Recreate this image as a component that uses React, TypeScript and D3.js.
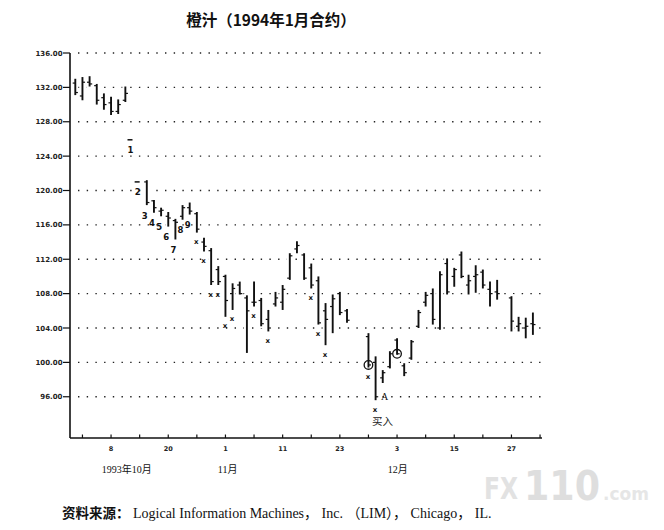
import React from 'react';
import * as d3 from 'd3';

// trading-day index (0 = 1993-10-01), gaps are days without bars
const dayIndex = [0,1,2,3,4,5,6,7,8,9,10,11,12,13,14,15,16,17,18,19,20,21,22,23,24,25,26,27,28,29,30,31,32,33,34,35,36,37,38,41,42,43,44,45,46,47,48,49,50,51,52,53,54,55,56,57,58,59,61,62,63,64];
const opens  = [132.5,131.0,132.6,132.2,130.8,130.2,129.2,130.5,125.9,121.0,121.0,118.8,117.6,117.0,116.5,117.0,118.0,117.3,114.0,113.0,110.8,110.0,108.0,109.0,107.5,107.0,107.2,105.0,106.8,107.0,109.8,113.2,112.5,111.0,109.5,106.0,106.5,108.0,106.0,103.0,100.0,98.2,99.5,102.6,99.6,100.5,104.2,107.0,108.0,104.0,111.5,110.0,112.5,109.0,110.0,110.5,108.5,108.2,107.5,104.2,104.0,104.5];
const highs  = [133.0,133.2,133.3,132.4,131.3,130.9,130.6,132.1,125.9,121.0,121.2,118.9,118.0,117.5,116.7,118.3,118.6,117.5,114.5,113.3,111.2,110.2,109.2,109.4,107.8,109.4,107.5,106.1,108.2,109.0,112.7,114.1,112.7,111.5,110.0,106.9,107.9,108.2,106.2,103.4,100.7,99.1,101.3,102.8,99.9,102.6,106.1,108.2,108.6,110.6,112.1,111.0,112.9,110.2,111.3,110.8,109.4,109.6,107.7,105.3,105.2,105.8];
const lows   = [131.1,130.5,132.1,130.0,129.4,128.8,128.9,130.3,125.9,121.0,118.3,117.4,117.0,115.8,114.3,116.6,117.2,115.1,112.9,109.0,109.0,105.3,106.1,107.9,101.1,106.5,104.2,103.6,106.5,106.1,109.6,112.7,109.6,108.6,104.4,102.0,103.4,105.5,104.6,99.4,95.6,97.6,99.3,100.9,98.4,100.3,104.0,106.5,104.4,103.8,107.9,108.8,109.8,107.9,108.1,108.6,106.5,107.3,103.6,103.6,102.8,103.2];
const closes = [131.4,132.6,132.4,130.5,130.0,129.2,130.0,131.3,125.9,121.0,118.6,118.0,117.7,116.8,116.3,118.0,117.6,115.5,113.5,109.4,109.4,107.2,108.6,108.0,106.0,107.0,104.5,104.0,107.5,108.5,112.4,113.6,109.8,109.0,104.6,105.0,107.4,105.8,104.9,99.7,96.0,98.8,101.0,101.0,98.8,102.4,105.8,107.8,105.0,110.2,108.2,110.8,110.0,109.5,110.2,109.0,108.0,108.0,104.8,104.5,104.2,104.4];

const yTicks = [96, 100, 104, 108, 112, 116, 120, 124, 128, 132, 136];
const xTickIdx = d3.range(1, 66, 4);
const xLabelIdx = [5, 13, 21, 29, 37, 45, 53, 61];
const xLabelText = ['8', '20', '1', '11', '23', '3', '15', '27'];
const monthIdx = [7.2, 21.3, 45.1];
const monthText = ['1993年10月', '11月', '12月'];
const countIdx = [8, 9, 10, 11, 12, 13, 14, 15, 16];
const countText = ['1', '2', '3', '4', '5', '6', '7', '8', '9'];
const crossIdx = [17, 18, 19, 20, 21, 22, 25, 27, 33, 34, 35, 41, 42];
const circleIdx = [41, 45];
const buyIdx = 42;

const x = d3.scaleLinear().domain([0, 64]).range([75.3, 532.9]);
const y = d3.scaleLinear().domain([91.2, 136]).range([438, 53]);

const bars = dayIndex.map((d, k) => ({ d, o: opens[k], h: highs[k], l: lows[k], c: closes[k] }));
const byDay = new Map(bars.map((b) => [b.d, b]));

const sans = "'DejaVu Sans', sans-serif";
const cjk = "'Noto Sans CJK SC', sans-serif";
const serif = "'Liberation Serif', 'Noto Sans CJK SC', serif";

export default function App() {
  const x0 = 70;
  const xEnd = 541;
  const yBottom = 438;
  return (
    <svg width={664} height={530} style={{ position: 'absolute', left: 0, top: 0, background: '#fff' }}>
      <rect width={664} height={530} fill="#fff" />
      {/* title */}
      <text x={271} y={26} textAnchor="middle" fontFamily={cjk} fontWeight={700} fontSize={15.5} fill="#111">
        橙汁（1994年1月合约）
      </text>

      {/* dotted grid */}
      {yTicks.map((t) => (
        <line key={'g' + t} x1={x0 + 8} x2={xEnd} y1={y(t)} y2={y(t)} stroke="#222" strokeWidth={1.4}
          strokeDasharray="1.4 7.3" />
      ))}

      {/* white halos to break grid near bars */}
      {bars.map((b) => (
        <line key={'w' + b.d} x1={x(b.d)} x2={x(b.d)} y1={y(b.h) - 2} y2={y(b.l) + 2} stroke="#fff" strokeWidth={6} />
      ))}

      {/* axes */}
      <line x1={x0} x2={x0} y1={y(136)} y2={yBottom} stroke="#111" strokeWidth={1.6} />
      <line x1={x0} x2={xEnd + 1} y1={yBottom} y2={yBottom} stroke="#111" strokeWidth={1.6} />
      {yTicks.map((t) => (
        <g key={'yt' + t}>
          <line x1={x0 - 7} x2={x0} y1={y(t)} y2={y(t)} stroke="#111" strokeWidth={1.2} />
          <text x={x0 - 7.5} y={y(t) + 2.6} textAnchor="end" fontFamily={sans} fontWeight={700} fontSize={7}
            fill="#222">{t.toFixed(2)}</text>
        </g>
      ))}
      {xTickIdx.map((i) => (
        <line key={'xt' + i} x1={x(i)} x2={x(i)} y1={yBottom - 3.5} y2={yBottom} stroke="#111" strokeWidth={1.2} />
      ))}
      {xLabelIdx.map((i, k) => (
        <text key={'xl' + i} x={x(i)} y={451} textAnchor="middle" fontFamily={sans} fontWeight={700} fontSize={6.5}
          fill="#222">{xLabelText[k]}</text>
      ))}
      {monthIdx.map((i, k) => (
        <text key={'m' + k} x={x(i)} y={473} textAnchor="middle" fontFamily={serif} fontSize={10} fill="#111">
          {monthText[k]}
        </text>
      ))}

      {/* OHLC bars */}
      {bars.map((b) => {
        const cx = x(b.d);
        if (b.h === b.l) {
          return <line key={'b' + b.d} x1={cx - 5} x2={cx} y1={y(b.h)} y2={y(b.h)} stroke="#111" strokeWidth={1.5} />;
        }
        return (
          <g key={'b' + b.d} stroke="#111">
            <line x1={cx} x2={cx} y1={y(b.h)} y2={y(b.l)} strokeWidth={1.9} />
            <line x1={cx - 2.6} x2={cx} y1={y(b.o)} y2={y(b.o)} strokeWidth={1.2} />
            <line x1={cx} x2={cx + 2.6} y1={y(b.c)} y2={y(b.c)} strokeWidth={1.2} />
          </g>
        );
      })}

      {/* count labels */}
      {countIdx.map((i, k) => {
        const b = byDay.get(i)!;
        return (
          <text key={'c' + i} x={x(i) - 2} y={y(b.l) + 13.5} textAnchor="middle" fontFamily={sans} fontWeight={700}
            fontSize={8.5} fill="#111">{countText[k]}</text>
        );
      })}
      {crossIdx.map((i) => {
        const b = byDay.get(i)!;
        return (
          <text key={'x' + i} x={x(i) - 0.5} y={y(b.l) + 11.5} textAnchor="middle" fontFamily={sans} fontWeight={700}
            fontSize={7} fill="#111">x</text>
        );
      })}
      {circleIdx.map((i) => {
        const b = byDay.get(i)!;
        return <circle key={'o' + i} cx={x(i)} cy={y(b.c)} r={4.3} fill="none" stroke="#111" strokeWidth={1.3} />;
      })}
      <text x={x(buyIdx) + 9} y={y(96) + 3.5} textAnchor="middle" fontFamily={serif} fontSize={10} fill="#111">A</text>
      <text x={x(buyIdx) + 7} y={425} textAnchor="middle" fontFamily={cjk} fontSize={10.5} fill="#222">买入</text>

      {/* watermark */}
      <g fontFamily={sans} fontWeight={700}>
        <text x={484} y={499} fontSize={30} textLength={34} lengthAdjust="spacingAndGlyphs" fill="#e2e2e2">FX</text>
        <text x={524} y={500} fontSize={40} textLength={76} lengthAdjust="spacingAndGlyphs" fill="#dedede">110</text>
        <text x={603} y={500} fontSize={17} fill="#e6e6e6">.com</text>
      </g>

      {/* source */}
      <text x={62} y={518} fill="#111">
        <tspan fontFamily={cjk} fontWeight={700} fontSize={13.5}>资料来源：</tspan>
        <tspan fontFamily={serif} fontSize={14}> Logical Information Machines， Inc. （LIM）， Chicago， IL.</tspan>
      </text>
    </svg>
  );
}
